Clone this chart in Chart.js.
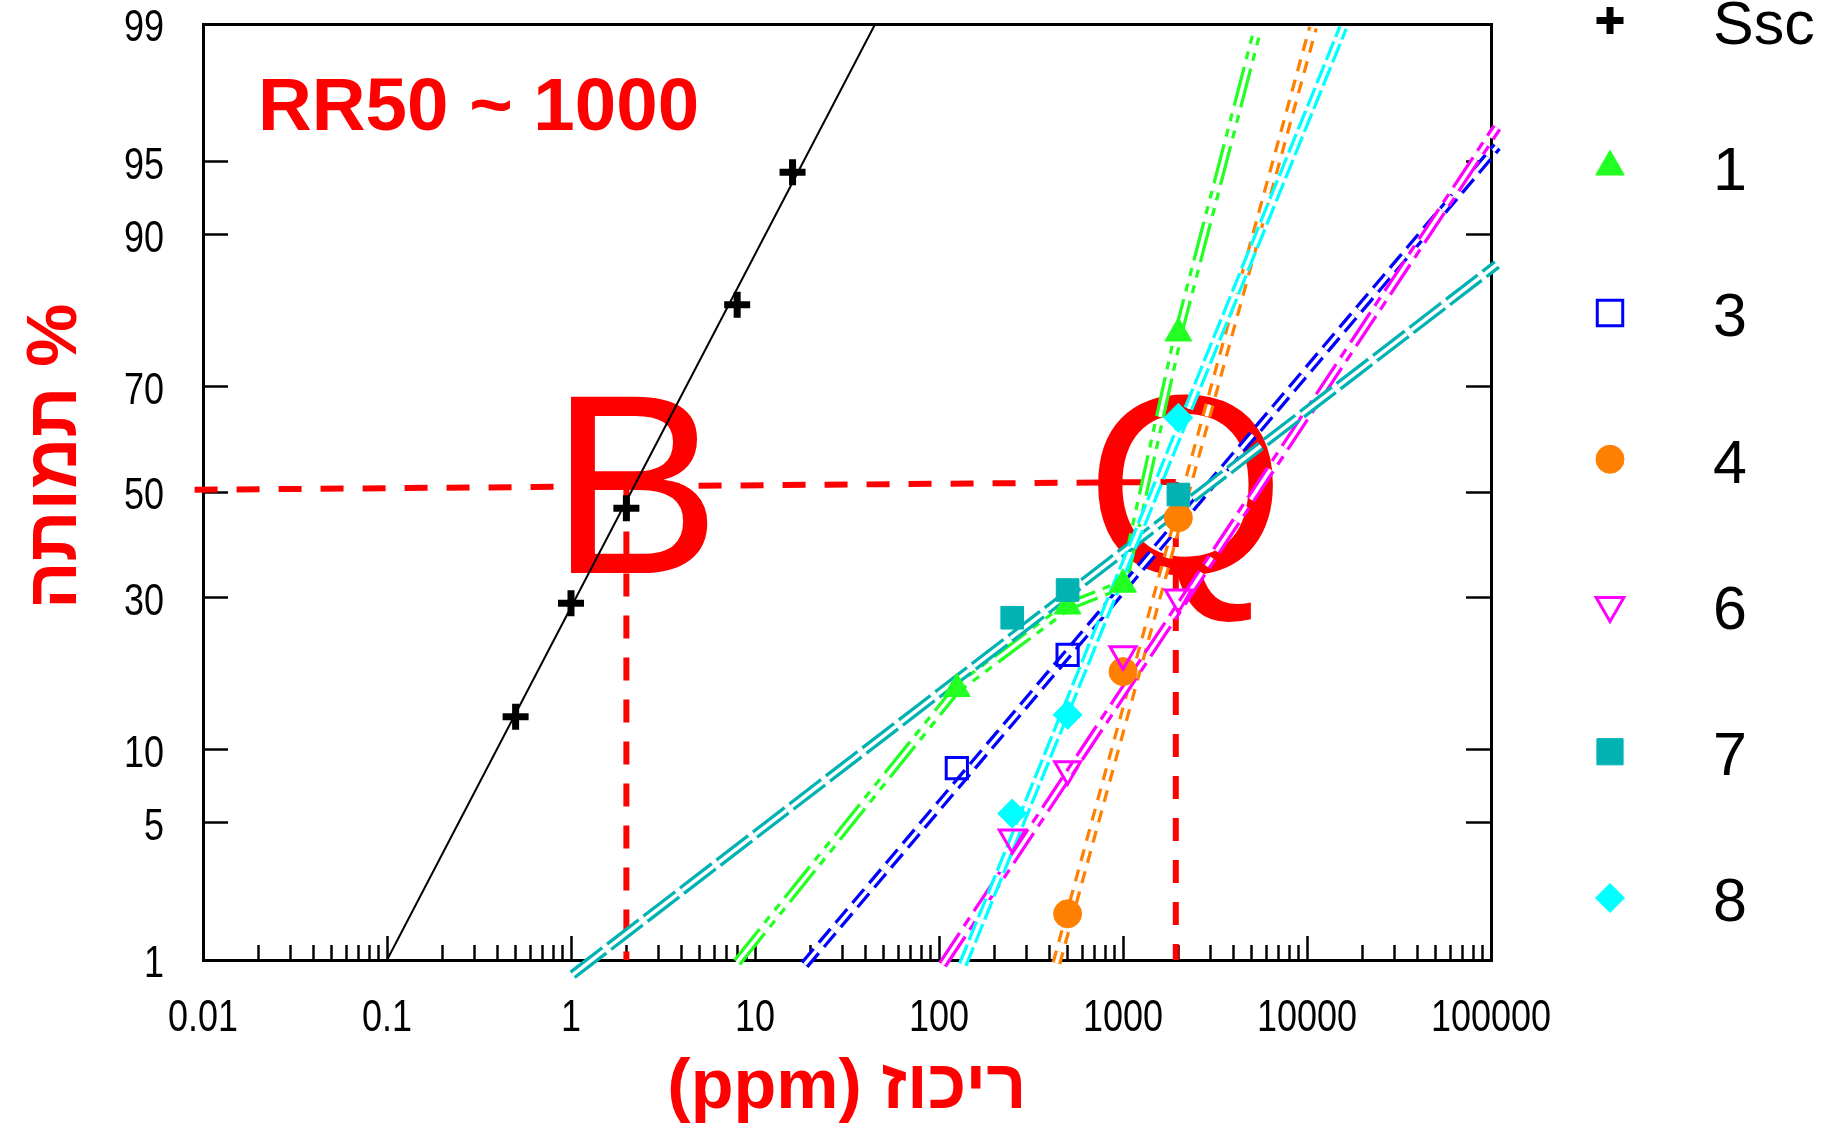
<!DOCTYPE html>
<html>
<head>
<meta charset="utf-8">
<title>RR50 probit</title>
<script src="https://cdn.jsdelivr.net/npm/chart.js"></script>
<style>
  html, body { margin: 0; padding: 0; background: #fff; }
  #chart { display: block; }
</style>
</head>
<body>
<canvas id="chart" width="1825" height="1132"></canvas>
<script>
// axes
const xMin = 0.01, xMax = 100000;
const xDecadeLabels = ['0.01', '0.1', '1', '10', '100', '1000', '10000', '100000'];
const yTickValues = [1, 5, 10, 30, 50, 70, 90, 95, 99];

const seriesNames = ['Ssc', '1', '3', '4', '6', '7', '8'];
const seriesColors = ['#000000', '#22ff22', '#0000ff', '#ff8000', '#ff00ff', '#00b2b2', '#00ffff'];

// measured points (ppm, %)
const sscX = [0.5, 1, 2, 8, 16];
const sscY = [13.2, 29, 46.8, 82.4, 94.4];
const s1X = [125, 500, 1000, 2000];
const s1Y = [16.4, 28.5, 32.3, 78.5];
const s3X = [125, 500];
const s3Y = [8.5, 20.9];
const s4X = [500, 1000, 2000];
const s4Y = [1.8, 18.6, 44.9];
const s6X = [250, 500, 1000, 2000];
const s6Y = [4.3, 8.4, 21, 30];
const s7X = [250, 500, 2000];
const s7Y = [26.6, 31.3, 49.5];
const s8X = [250, 500, 2000];
const s8Y = [5.5, 13.4, 64.4];

// fitted lines
const sscLineX = [0.1, 45];
const sscLineY = [1, 99];
const s1LineX = [8, 125, 500, 1000, 2000, 5350];
const s1LineY = [0.97, 16.4, 28.5, 32.3, 78.5, 98.9];
const s3LineX = [18.6, 107700];
const s3LineY = [0.94, 95.7];
const s4LineX = [435, 10770];
const s4LineY = [0.96, 98.95];
const s6LineX = [104.5, 107700];
const s6LineY = [0.94, 96.5];
const s7LineX = [1.02, 107700];
const s7LineY = [0.82, 87.1];
const s8LineX = [134.6, 15700];
const s8LineY = [0.94, 98.95];

// red guide lines
const guideHX = [0.009, 1936];
const guideHY = [50.45, 52];
const guideBX = [2, 2];
const guideBY = [50.5, 1];
const guideQX = [1936, 1936];
const guideQY = [52, 1];

const pointsX = [sscX, s1X, s3X, s4X, s6X, s7X, s8X];
const pointsY = [sscY, s1Y, s3Y, s4Y, s6Y, s7Y, s8Y];
const linesX = [sscLineX, s1LineX, s3LineX, s4LineX, s6LineX, s7LineX, s8LineX];
const linesY = [sscLineY, s1LineY, s3LineY, s4LineY, s6LineY, s7LineY, s8LineY];

const markerStyles = [
    {style: 'cross', radius: 13, legendRadius: 13.5, border: 7, filled: false, rotation: 0},
    {style: 'triangle', radius: 15.5, legendRadius: 16.5, border: 1, filled: true, rotation: 0},
    {style: 'rect', radius: 15, legendRadius: 18, border: 3, filled: false, rotation: 0},
    {style: 'circle', radius: 14, legendRadius: 14, border: 1, filled: true, rotation: 0},
    {style: 'triangle', radius: 15, legendRadius: 16, border: 3, filled: false, rotation: 180},
    {style: 'rect', radius: 16, legendRadius: 18.5, border: 1, filled: true, rotation: 0},
    {style: 'rectRot', radius: 14.5, legendRadius: 14.5, border: 1, filled: true, rotation: 0}
];
const lineDashes = [[], [40, 8, 8, 8, 8, 8], [18, 8], [12, 9], [36, 8, 10, 8], [40, 6], [20, 5]];

// inverse normal CDF (Acklam)
function probit(p) {
    const a = [-39.69683028665376, 220.9460984245205, -275.9285104469687, 138.3577518672690, -30.66479806614716, 2.506628277459239];
    const b = [-54.47609879822406, 161.5858368580409, -155.6989798598866, 66.80131188771972, -13.28068155288572];
    const c = [-0.007784894002430293, -0.3223964580411365, -2.400758276161838, -2.549732539343734, 4.374664141464968, 2.938163982698783];
    const d = [0.007784695709041462, 0.3224671290700398, 2.445134137142996, 3.754408661907416];
    const pl = 0.02425;
    let q, r;
    if (p < pl) {
        q = Math.sqrt(-2 * Math.log(p));
        return (((((c[0] * q + c[1]) * q + c[2]) * q + c[3]) * q + c[4]) * q + c[5]) / ((((d[0] * q + d[1]) * q + d[2]) * q + d[3]) * q + 1);
    }
    if (p > 1 - pl) {
        q = Math.sqrt(-2 * Math.log(1 - p));
        return -(((((c[0] * q + c[1]) * q + c[2]) * q + c[3]) * q + c[4]) * q + c[5]) / ((((d[0] * q + d[1]) * q + d[2]) * q + d[3]) * q + 1);
    }
    q = p - 0.5;
    r = q * q;
    return (((((a[0] * r + a[1]) * r + a[2]) * r + a[3]) * r + a[4]) * r + a[5]) * q / (((((b[0] * r + b[1]) * r + b[2]) * r + b[3]) * r + b[4]) * r + 1);
}

function normCdf(z) {
    const t = 1 / (1 + 0.2316419 * Math.abs(z));
    const dd = 0.3989423 * Math.exp(-z * z / 2);
    const p = dd * t * (0.3193815 + t * (-0.3565638 + t * (1.781478 + t * (-1.821256 + t * 1.330274))));
    return z > 0 ? 1 - p : p;
}

// probability (probit) axis
class ProbitScale extends Chart.Scale {
    determineDataLimits() {
        this.min = yTickValues[0];
        this.max = yTickValues[yTickValues.length - 1];
    }
    buildTicks() {
        return yTickValues.map(v => ({value: v}));
    }
    configure() {
        super.configure();
        this._zStart = probit(this.min / 100);
        this._zRange = probit(this.max / 100) - this._zStart;
    }
    getPixelForValue(value) {
        return this.getPixelForDecimal((probit(value / 100) - this._zStart) / this._zRange);
    }
    getValueForPixel(pixel) {
        return 100 * normCdf(this._zStart + this.getDecimalForPixel(pixel) * this._zRange);
    }
}
ProbitScale.id = 'probit';
ProbitScale.defaults = {};
Chart.register(ProbitScale);

function isDecade(v) {
    const l = Math.log10(v);
    return Math.abs(l - Math.round(l)) < 1e-6;
}

const pts = (xs, ys) => xs.map((x, i) => ({x: x, y: ys[i]}));

const datasets = [];

// guides
[[guideHX, guideHY], [guideBX, guideBY], [guideQX, guideQY]].forEach(function(g) {
    datasets.push({
        data: pts(g[0], g[1]), showLine: true, pointRadius: 0, pointHoverRadius: 0,
        borderColor: '#ff0000', borderWidth: 6, borderDash: [23, 19], clip: false, order: 1000
    });
});

seriesNames.forEach(function(name, i) {
    const color = seriesColors[i];
    if (i === 0) {
        datasets.push({
            data: pts(linesX[i], linesY[i]), showLine: true, pointRadius: 0, pointHoverRadius: 0,
            borderColor: color, borderWidth: 2, clip: false, order: 200
        });
    } else {
        datasets.push({
            data: pts(linesX[i], linesY[i]), showLine: true, pointRadius: 0, pointHoverRadius: 0,
            borderColor: color, borderWidth: 10, borderDash: lineDashes[i], clip: false, order: 500 - 10 * i
        });
        datasets.push({
            data: pts(linesX[i], linesY[i]), showLine: true, pointRadius: 0, pointHoverRadius: 0,
            borderColor: '#ffffff', borderWidth: 3.5, borderDash: lineDashes[i], clip: false, order: 499 - 10 * i
        });
    }
    const m = markerStyles[i];
    datasets.push({
        label: name,
        data: pts(pointsX[i], pointsY[i]),
        showLine: false,
        pointStyle: m.style,
        pointRadius: m.radius,
        pointHoverRadius: m.radius,
        pointRotation: m.rotation,
        pointBorderWidth: m.border,
        pointBorderColor: color,
        pointBackgroundColor: m.filled ? color : 'rgba(0,0,0,0)',
        clip: false,
        order: 100 - i
    });
});

// texts on the plot, drawn under the data
const annotations = {
    id: 'annotations',
    beforeDatasetsDraw(chart) {
        const ctx = chart.ctx;
        ctx.save();
        ctx.fillStyle = '#ff0000';
        ctx.textAlign = 'left';
        ctx.textBaseline = 'alphabetic';
        ctx.font = "bold 74.5px 'Liberation Sans', Arial, sans-serif";
        ctx.fillText('RR50 ~ 1000', 258, 130);
        ctx.font = "256px 'Liberation Sans', Arial, sans-serif";
        ctx.fillText('B', 550, 573);
        ctx.fillText('Q', 1086, 574);
        // y title
        ctx.translate(76, 456.5);
        ctx.rotate(-Math.PI / 2);
        ctx.textAlign = 'center';
        ctx.font = "bold 71px 'Liberation Sans', Arial, sans-serif";
        ctx.fillText('תמותה %', 0, 0);
        ctx.restore();
    }
};

// narrow tick labels, placed from the scales
const narrowLabels = {
    id: 'narrowLabels',
    afterDraw(chart) {
        const ctx = chart.ctx;
        const xs = chart.scales.x;
        const ys = chart.scales.y;
        ctx.save();
        ctx.fillStyle = '#000';
        ctx.font = "45px 'Liberation Sans', Arial, sans-serif";
        ctx.textBaseline = 'middle';
        xDecadeLabels.forEach(function(lab, i) {
            const px = xs.getPixelForValue(xMin * Math.pow(10, i));
            ctx.save();
            ctx.translate(px, 1019);
            ctx.scale(0.8, 1);
            ctx.textAlign = 'center';
            ctx.fillText(lab, 0, 0);
            ctx.restore();
        });
        yTickValues.forEach(function(v) {
            const py = ys.getPixelForValue(v);
            ctx.save();
            ctx.translate(164, py + 5);
            ctx.scale(0.8, 1);
            ctx.textAlign = 'right';
            ctx.fillText(String(v), 0, 0);
            ctx.restore();
        });
        ctx.restore();
    }
};

// legend on the right
const sideLegend = {
    id: 'sideLegend',
    afterDraw(chart) {
        const ctx = chart.ctx;
        ctx.save();
        seriesNames.forEach(function(name, i) {
            const m = markerStyles[i];
            const y = 20.5 + i * 146.25;
            ctx.strokeStyle = seriesColors[i];
            ctx.fillStyle = m.filled ? seriesColors[i] : 'rgba(0,0,0,0)';
            ctx.lineWidth = m.border;
            Chart.helpers.drawPoint(ctx, {pointStyle: m.style, rotation: m.rotation, radius: m.legendRadius, borderWidth: m.border}, 1610, y);
            ctx.fillStyle = '#000';
            ctx.font = "61px 'Liberation Sans', Arial, sans-serif";
            ctx.textAlign = 'left';
            ctx.textBaseline = 'middle';
            ctx.fillText(name, 1713, y + 6.5);
        });
        ctx.restore();
    }
};

const gridInward = function(len) {
    return {display: true, drawOnChartArea: false, drawTicks: true, tickLength: -len, tickWidth: 2.5, tickColor: '#000'};
};
const axisBorder = {display: true, color: '#000', width: 3};
const fixSize = function(w, h) {
    return function(scale) {
        if (w !== null) scale.width = w;
        if (h !== null) scale.height = h;
        scale.paddingTop = 0;
        scale.paddingBottom = 0;
        scale.paddingLeft = 0;
        scale.paddingRight = 0;
    };
};

new Chart(document.getElementById('chart').getContext('2d'), {
    type: 'scatter',
    data: {datasets: datasets},
    options: {
        responsive: false,
        animation: false,
        devicePixelRatio: 1,
        events: [],
        layout: {padding: {left: 0, top: 24, right: 334, bottom: 0}},
        plugins: {legend: {display: false}, tooltip: {enabled: false}},
        scales: {
            x: {
                type: 'logarithmic', position: 'bottom', min: xMin, max: xMax,
                afterBuildTicks: function(scale) {
                    const ticks = [];
                    for (let e = Math.log10(xMin); e < Math.log10(xMax); e++) {
                        for (let k = 1; k <= 9; k++) {
                            ticks.push({value: Number((k * Math.pow(10, e)).toPrecision(6))});
                        }
                    }
                    ticks.push({value: xMax});
                    scale.ticks = ticks;
                },
                afterFit: fixSize(null, 172),
                grid: Object.assign(gridInward(24), {
                    tickBorderDash: function(c) {
                        return c.tick && !isDecade(c.tick.value) ? [17, 100] : [];
                    }
                }),
                border: axisBorder,
                ticks: {display: false},
                title: {
                    display: true, text: '(ppm) ריכוז', color: '#ff0000',
                    font: {family: "'Liberation Sans', Arial, sans-serif", size: 70, weight: 'bold', lineHeight: 1},
                    padding: {top: 0, bottom: 8}
                }
            },
            x2: {
                type: 'logarithmic', position: 'top', min: xMin, max: xMax,
                afterFit: fixSize(null, 0),
                grid: {display: false},
                border: axisBorder,
                ticks: {display: false}
            },
            y: {
                type: 'probit', position: 'left',
                afterFit: fixSize(203, null),
                grid: gridInward(25),
                border: axisBorder,
                ticks: {display: false}
            },
            y2: {
                type: 'probit', position: 'right',
                afterFit: fixSize(0, null),
                grid: gridInward(25),
                border: axisBorder,
                ticks: {display: false}
            }
        }
    },
    plugins: [annotations, narrowLabels, sideLegend]
});
</script>
</body>
</html>
